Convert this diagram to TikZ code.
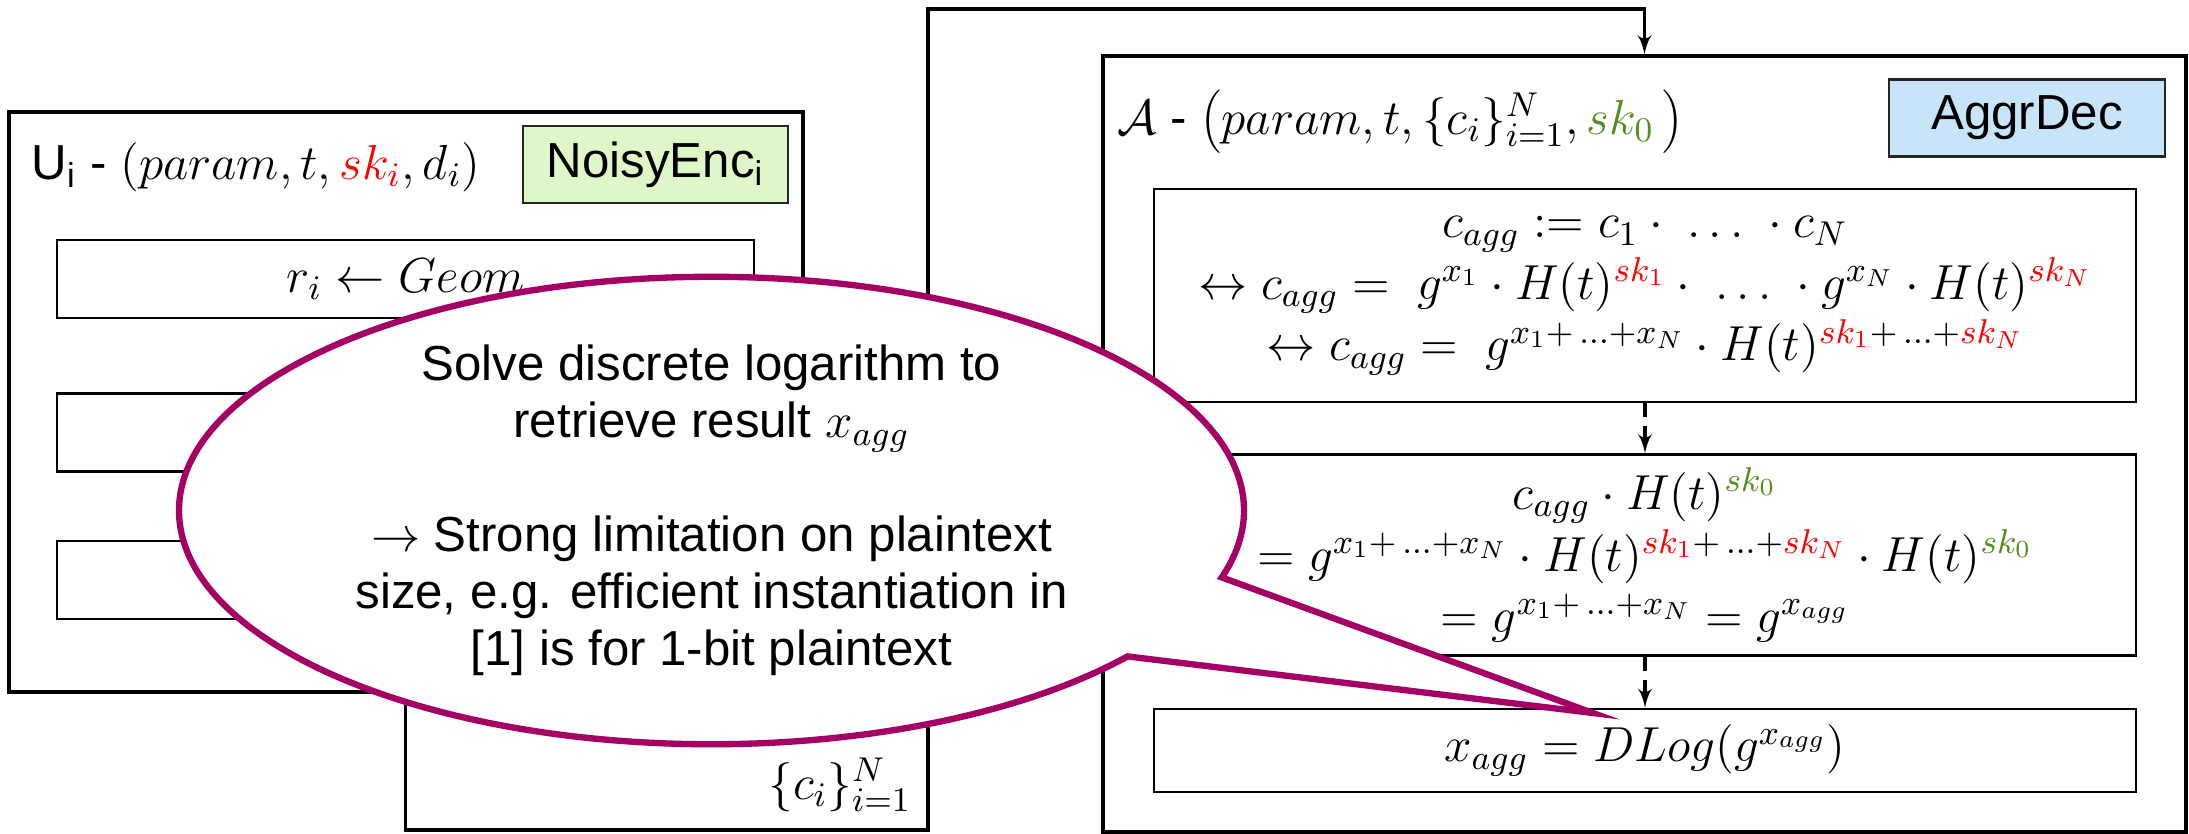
\RequirePackage{fix-cm}
\documentclass[tikz,border=0pt]{standalone}
\usepackage{fontspec}
\setmainfont{Liberation Sans}
\usepackage{xcolor}
\usepackage{tikz}
\usetikzlibrary{shapes.geometric, shapes.callouts, arrows, positioning, calc}

\definecolor{skred}{RGB}{255,0,0}
\definecolor{skgreen}{RGB}{84,140,30}
\definecolor{encgreen}{RGB}{223,247,200}
\definecolor{decblue}{RGB}{199,228,248}
\definecolor{notepurple}{RGB}{165,0,100}

\begin{document}
\begin{tikzpicture}[node distance=0.7cm, >=latex', font=\fontsize{14}{16.2}\selectfont]
        \tikzstyle{outer_box} = [rectangle, draw=black, line width=1pt, inner sep=0pt]
        \tikzstyle{inner_box} = [rectangle, draw=black, line width=0.7pt, inner sep=0pt, minimum width=6.97cm, minimum height=0.78cm, text centered]
        \tikzstyle{calc_box} = [rectangle, draw=black, line width=0.7pt, inner sep=0pt, minimum width=9.82cm, align=center, font=\fontsize{14}{17.5}\selectfont]
        \tikzstyle{tag_style} = [rectangle, draw=black!85, line width=0.8pt, inner sep=0pt, minimum height=0.77cm, text centered]
        \tikzstyle{flow_line} = [line width=0.9pt, ->]
        \tikzstyle{step_arrow} = [line width=0.9pt, ->, dash pattern=on 4pt off 2.5pt]
        \tikzstyle{note_style} = [ellipse callout, draw=notepurple, line width=1.8pt, fill=white, inner sep=0pt, minimum width=10.65cm, minimum height=4.55cm, align=center, callout pointer arc=22]

        \useasboundingbox (0,0) rectangle (21.89,-8.33);

        % User U_i
        \node (ubox) [outer_box, minimum width=7.94cm, minimum height=5.80cm] at (4.06,-4.02) {};
        \node (utitle) [anchor=west, inner sep=0pt] at (0.31,-1.67) {U\textsubscript{i} - $(param, t, \textcolor{skred}{sk_i}, d_i)$};
        \node (enc) [tag_style, fill=encgreen, minimum width=2.65cm] at (6.555,-1.645) {NoisyEnc\textsubscript{i}};

        % Steps of NoisyEnc
        \node (enc1) [inner_box] at (4.055,-2.79) {$r_i \leftarrow Geom$};
        \node (enc2) [inner_box, below=0.73cm of enc1] {};
        \node (enc3) [inner_box, below=0.67cm of enc2] {};
        \draw [flow_line] (enc1) -- (enc2);
        \draw [flow_line] (enc2) -- (enc3);

        % Aggregator A
        \node (abox) [outer_box, minimum width=10.83cm, minimum height=7.76cm] at (16.445,-4.44) {};
        \node (atitle) [anchor=west, inner sep=0pt] at (11.17,-1.22) {$\mathcal{A}$ - $\left(param, t, \{c_i\}_{i=1}^N, \textcolor{skgreen}{sk_0}\,\right)$};
        \node (dec) [tag_style, fill=decblue, minimum width=2.76cm] at (20.27,-1.18) {AggrDec};

        % Steps of AggrDec
        \node (dec1) [calc_box, minimum height=2.13cm] at (16.45,-2.955) {%
            $c_{agg} \mathrel{:=} c_1 \cdot\ \ldots\ \cdot c_N$\\
            $\leftrightarrow c_{agg} =\ g^{x_1}\cdot H(t)^{\textcolor{skred}{sk_1}}\cdot\ \ldots\ \cdot g^{x_N}\cdot H(t)^{\textcolor{skred}{sk_N}}$\\
            $\leftrightarrow c_{agg} =\ g^{x_1+\,\ldots+x_N}\cdot H(t)^{\textcolor{skred}{sk_1}+\,\ldots+\textcolor{skred}{sk_N}}$};
        \node (dec2) [calc_box, minimum height=2.01cm, below=0.5cm of dec1] {%
            $c_{agg}\cdot H(t)^{\textcolor{skgreen}{sk_0}}$\\
            $= g^{x_1+\,\ldots+x_N}\cdot H(t)^{\textcolor{skred}{sk_1}+\,\ldots+\textcolor{skred}{sk_N}}\cdot H(t)^{\textcolor{skgreen}{sk_0}}$\\
            $= g^{x_1+\,\ldots+x_N} = g^{x_{agg}}$};
        \node (dec3) [calc_box, minimum height=0.83cm, below=0.51cm of dec2] {$x_{agg} = DLog(g^{x_{agg}})$};
        \draw [step_arrow] (dec1) -- (dec2);
        \draw [step_arrow] (dec2) -- (dec3);

        % Ciphertexts from U_i to A
        \coordinate (cbot) at (9.28,-8.30);
        \coordinate (ctop) at (9.28,-0.09);
        \draw [flow_line] (enc3.south) |- (cbot) -- (ctop) -| (abox.north);
        \node (cset) [anchor=south east, inner sep=0pt] at (9.12,-8.12) {$\{c_i\}_{i=1}^N$};

        % Callout
        \coordinate (tip) at (15.93,-7.13);
        \node (note) [note_style, callout absolute pointer=(tip)] at (7.115,-5.105) {%
            Solve discrete logarithm to\\
            retrieve result $x_{agg}$\\[16.2pt]
            $\rightarrow$ Strong limitation on plaintext\\
            size, e.g. efficient instantiation in\\
            {[1]} is for 1-bit plaintext};
    \end{tikzpicture}
\end{document}
